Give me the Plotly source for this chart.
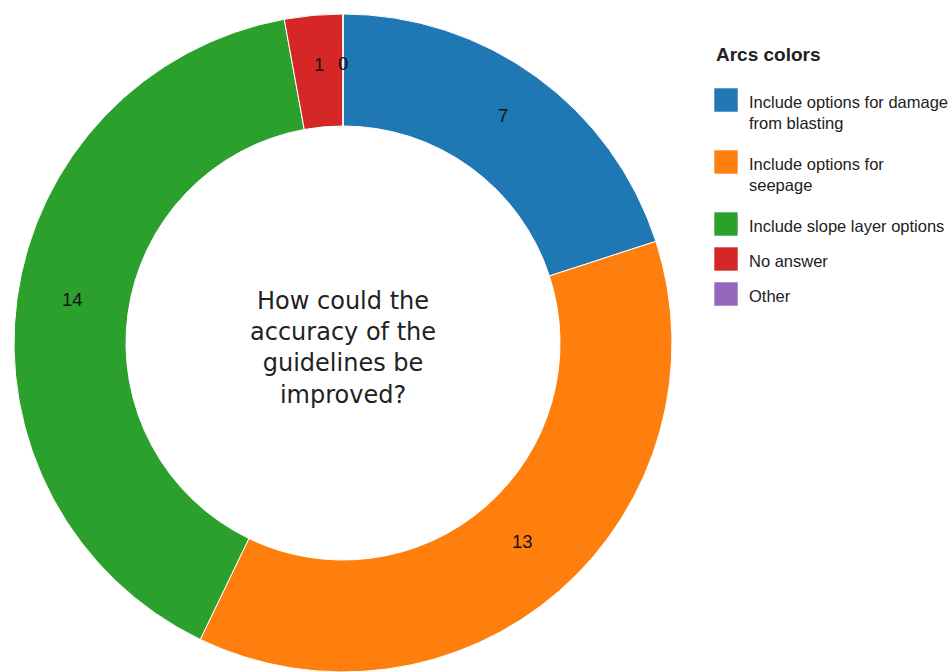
import math
import plotly.graph_objects as go

# ---- data ----
categories = [
    "Include options for damage<br>from blasting",
    "Include options for<br>seepage",
    "Include slope layer options",
    "No answer",
    "Other",
]
values = [7, 13, 14, 1, 0]
colors = ["#1f77b4", "#ff7f0e", "#2ca02c", "#d62728", "#9467bd"]
center_title = "How could the<br>accuracy of the<br>guidelines be<br>improved?"
legend_title = "Arcs colors"

# ---- layout constants (pixels) ----
W, H = 952, 672
CX, CY = 343, 343          # ring centre (from top-left)
R_OUT, R_IN = 329, 217
HOLE = R_IN / R_OUT
R_LABEL = 273
LABEL_DY = -7


def px(x):
    return x / W


def py(y):
    return 1 - y / H


fig = go.Figure()
fig.add_trace(go.Pie(
    labels=[c.replace("<br>", " ") for c in categories],
    values=values,
    sort=False,
    direction="clockwise",
    rotation=0,
    hole=HOLE,
    marker=dict(colors=colors, line=dict(color="white", width=1)),
    textinfo="none",
    hoverinfo="label+value",
    showlegend=False,
    domain=dict(x=[px(CX - R_OUT), px(CX + R_OUT)],
                y=[max(0, (H - CY - R_OUT) / H), (H - CY + R_OUT) / H]),
))

annotations = []
shapes = []

# value labels at middle of each arc
total = sum(values)
cum = 0
for v in values:
    mid = (cum + v / 2) / total * 2 * math.pi
    cum += v
    x = CX + R_LABEL * math.sin(mid)
    y = CY - R_LABEL * math.cos(mid) + LABEL_DY
    annotations.append(dict(
        x=px(x), y=py(y), xref="paper", yref="paper", text=str(v),
        showarrow=False, xanchor="center", yanchor="middle",
        font=dict(family="Liberation Sans, Arial, sans-serif", size=18.5, color="#111"),
    ))

# centre text
annotations.append(dict(
    x=px(CX), y=py(348), xref="paper", yref="paper", text=center_title,
    showarrow=False, xanchor="center", yanchor="middle", align="center",
    font=dict(family="DejaVu Sans, Verdana, sans-serif", size=24, color="#222"),
))

# legend (drawn manually)
LX, SW = 714, 24
annotations.append(dict(
    x=px(LX), y=py(54), xref="paper", yref="paper", text="<b>" + legend_title + "</b>",
    showarrow=False, xanchor="left", yanchor="middle",
    font=dict(family="Liberation Sans, Arial, sans-serif", size=19, color="#222"),
))
top = 88
for name, col in zip(categories, colors):
    nlines = name.count("<br>") + 1
    shapes.append(dict(
        type="rect", xref="paper", yref="paper",
        x0=px(LX), x1=px(LX + SW), y0=py(top), y1=py(top + SW),
        fillcolor=col, line=dict(color="rgba(255,255,255,0.6)", width=1),
    ))
    annotations.append(dict(
        x=px(LX + 33), y=py(top + SW / 2 + 2.5 - 11.5), xref="paper", yref="paper",
        text=name, showarrow=False, xanchor="left", yanchor="top", align="left",
        font=dict(family="Liberation Sans, Arial, sans-serif", size=16.5, color="#222"),
    ))
    top += 35 + 27 * (nlines - 1)

fig.update_layout(
    width=W, height=H,
    margin=dict(l=0, r=0, t=0, b=0),
    paper_bgcolor="white", plot_bgcolor="white",
    annotations=annotations, shapes=shapes,
    showlegend=False,
)

fig.write_html("out.html", config={"displayModeBar": False},
               post_script="document.body.style.margin='0';")
